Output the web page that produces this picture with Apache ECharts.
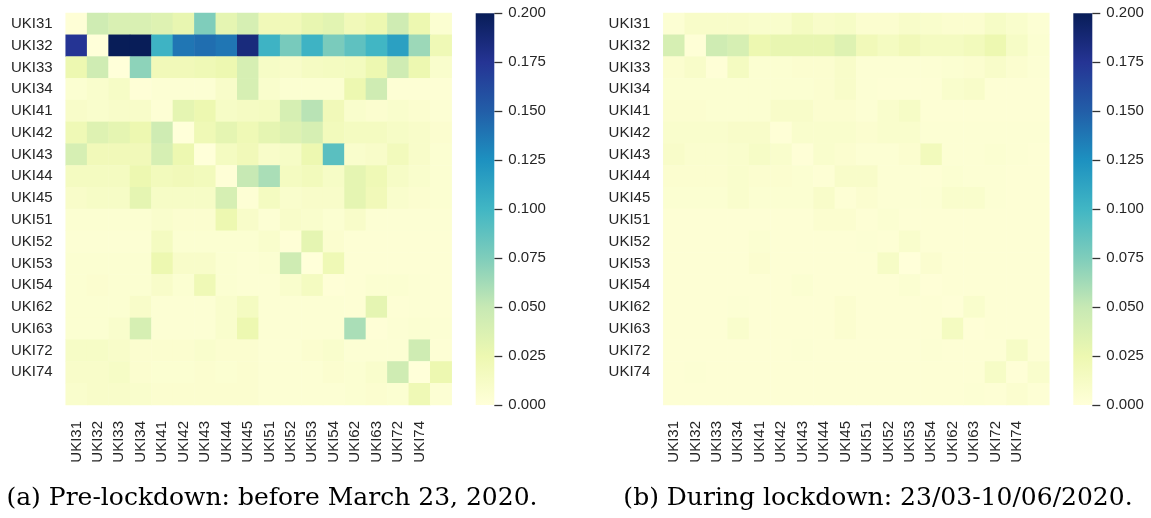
<!DOCTYPE html>
<html>
<head>
<meta charset="utf-8">
<script src="https://cdn.jsdelivr.net/npm/echarts/dist/echarts.min.js"></script>
<style>
  html, body { margin: 0; padding: 0; background: #ffffff; }
  #chart { width: 1151px; height: 518px; }
</style>
</head>
<body>
<div id="chart"></div>
<script>
// Region labels (the 18th row/column carries no label in the reference)
const regions = ['UKI31','UKI32','UKI33','UKI34','UKI41','UKI42','UKI43','UKI44','UKI45','UKI51','UKI52','UKI53','UKI54','UKI62','UKI63','UKI72','UKI74',''];

// Colour-bar ticks
const colorTicks = [0.000, 0.025, 0.050, 0.075, 0.100, 0.125, 0.150, 0.175, 0.200];
const colorMax = [0.2];

// YlGnBu colour map stops
const ylgnbu = ['#ffffd9','#edf8b1','#c7e9b4','#7fcdbb','#41b6c4','#1d91c0','#225ea8','#253494','#081d58'];

// (a) Pre-lockdown matrix, rows top to bottom
const preLockdown = [
  [0.002,0.045,0.038,0.038,0.035,0.028,0.075,0.030,0.040,0.020,0.020,0.028,0.032,0.020,0.025,0.045,0.025,0.005],
  [0.175,0.000,0.200,0.200,0.102,0.138,0.142,0.138,0.185,0.102,0.078,0.102,0.077,0.088,0.100,0.115,0.065,0.022],
  [0.025,0.045,0.000,0.070,0.020,0.020,0.022,0.025,0.040,0.012,0.010,0.014,0.015,0.016,0.025,0.045,0.025,0.008],
  [0.005,0.008,0.012,0.002,0.004,0.004,0.004,0.010,0.040,0.008,0.005,0.005,0.005,0.025,0.045,0.003,0.003,0.003],
  [0.010,0.008,0.010,0.010,0.003,0.030,0.025,0.012,0.014,0.015,0.040,0.055,0.020,0.008,0.006,0.008,0.006,0.004],
  [0.022,0.035,0.030,0.025,0.045,0.000,0.022,0.030,0.022,0.030,0.035,0.040,0.018,0.015,0.015,0.012,0.010,0.006],
  [0.040,0.020,0.020,0.020,0.040,0.025,0.000,0.015,0.020,0.010,0.012,0.025,0.090,0.008,0.010,0.018,0.010,0.005],
  [0.015,0.015,0.015,0.025,0.018,0.020,0.018,0.002,0.050,0.060,0.015,0.018,0.012,0.030,0.022,0.012,0.008,0.005],
  [0.010,0.012,0.012,0.030,0.012,0.012,0.012,0.040,0.003,0.015,0.008,0.010,0.010,0.030,0.020,0.008,0.006,0.005],
  [0.005,0.005,0.005,0.005,0.008,0.006,0.006,0.025,0.010,0.004,0.010,0.008,0.005,0.010,0.004,0.004,0.004,0.004],
  [0.004,0.004,0.004,0.004,0.015,0.005,0.005,0.005,0.005,0.008,0.002,0.030,0.006,0.003,0.003,0.003,0.003,0.003],
  [0.005,0.005,0.005,0.005,0.025,0.010,0.010,0.005,0.004,0.005,0.045,0.000,0.022,0.003,0.003,0.003,0.003,0.003],
  [0.005,0.006,0.005,0.005,0.010,0.005,0.022,0.005,0.004,0.004,0.008,0.015,0.002,0.003,0.005,0.005,0.004,0.003],
  [0.005,0.005,0.005,0.010,0.004,0.004,0.004,0.008,0.015,0.004,0.004,0.004,0.004,0.003,0.030,0.003,0.004,0.003],
  [0.005,0.005,0.008,0.040,0.004,0.004,0.004,0.008,0.025,0.004,0.004,0.004,0.004,0.060,0.002,0.004,0.005,0.004],
  [0.012,0.012,0.010,0.006,0.006,0.006,0.008,0.006,0.006,0.004,0.004,0.006,0.008,0.004,0.004,0.004,0.045,0.003],
  [0.010,0.010,0.012,0.006,0.005,0.005,0.006,0.005,0.006,0.004,0.004,0.004,0.006,0.005,0.008,0.045,0.000,0.025],
  [0.008,0.010,0.010,0.008,0.006,0.006,0.006,0.006,0.006,0.004,0.004,0.004,0.004,0.005,0.006,0.005,0.022,0.004]
];

// (b) During-lockdown matrix, rows top to bottom
const duringLockdown = [
  [0.004,0.010,0.010,0.010,0.008,0.008,0.015,0.010,0.012,0.006,0.006,0.010,0.008,0.006,0.006,0.012,0.008,0.004],
  [0.040,0.002,0.045,0.040,0.025,0.028,0.028,0.028,0.035,0.020,0.015,0.020,0.015,0.015,0.018,0.025,0.012,0.005],
  [0.006,0.010,0.002,0.015,0.005,0.005,0.006,0.006,0.010,0.004,0.004,0.004,0.004,0.005,0.006,0.010,0.006,0.004],
  [0.005,0.005,0.005,0.005,0.005,0.005,0.005,0.006,0.010,0.004,0.003,0.003,0.003,0.008,0.010,0.003,0.003,0.003],
  [0.006,0.006,0.005,0.005,0.005,0.010,0.010,0.006,0.006,0.004,0.008,0.012,0.003,0.003,0.003,0.003,0.003,0.003],
  [0.008,0.008,0.008,0.010,0.010,0.002,0.008,0.008,0.008,0.006,0.008,0.008,0.004,0.004,0.004,0.004,0.004,0.004],
  [0.010,0.007,0.007,0.008,0.012,0.008,0.002,0.008,0.006,0.004,0.004,0.006,0.018,0.004,0.004,0.005,0.004,0.003],
  [0.006,0.006,0.006,0.008,0.006,0.006,0.005,0.003,0.010,0.010,0.004,0.004,0.003,0.005,0.004,0.004,0.003,0.003],
  [0.005,0.005,0.005,0.008,0.005,0.005,0.005,0.010,0.003,0.006,0.004,0.004,0.004,0.008,0.008,0.004,0.003,0.003],
  [0.003,0.003,0.003,0.003,0.003,0.003,0.003,0.006,0.006,0.003,0.005,0.003,0.003,0.003,0.003,0.003,0.003,0.003],
  [0.003,0.003,0.003,0.003,0.005,0.003,0.003,0.003,0.003,0.004,0.003,0.008,0.003,0.003,0.003,0.003,0.003,0.003],
  [0.003,0.003,0.003,0.003,0.006,0.003,0.003,0.003,0.003,0.003,0.012,0.000,0.006,0.003,0.003,0.003,0.003,0.003],
  [0.003,0.003,0.003,0.003,0.003,0.003,0.005,0.003,0.003,0.003,0.003,0.005,0.002,0.003,0.003,0.003,0.003,0.003],
  [0.003,0.003,0.003,0.004,0.003,0.003,0.003,0.003,0.006,0.003,0.003,0.003,0.003,0.002,0.008,0.003,0.003,0.003],
  [0.003,0.003,0.003,0.008,0.003,0.003,0.003,0.003,0.006,0.003,0.003,0.003,0.003,0.015,0.002,0.003,0.003,0.003],
  [0.003,0.003,0.003,0.003,0.003,0.003,0.004,0.003,0.003,0.003,0.003,0.003,0.004,0.003,0.003,0.003,0.012,0.003],
  [0.003,0.004,0.003,0.003,0.003,0.003,0.003,0.003,0.003,0.003,0.003,0.003,0.003,0.003,0.003,0.012,0.002,0.008],
  [0.003,0.003,0.003,0.003,0.003,0.003,0.003,0.003,0.003,0.003,0.003,0.003,0.003,0.003,0.004,0.003,0.006,0.003]
];

const captions = ['(a) Pre-lockdown: before March 23, 2020.', '(b) During lockdown: 23/03-10/06/2020.'];

function toCells(matrix) {
  const out = [];
  matrix.forEach((row, r) => row.forEach((v, c) => out.push([c, r, v])));
  return out;
}

const chart = echarts.init(document.getElementById('chart'), null, { renderer: 'canvas' });
const sans = "'Liberation Sans', Arial, sans-serif";
const textColor = '#262626';

const gradStops = ylgnbu.slice().reverse().map((c, i, a) => ({ offset: i / (a.length - 1), color: c }));

function catX(gi) {
  return {
    type: 'category', gridIndex: gi, data: regions,
    axisLine: { show: false }, axisTick: { show: false }, splitLine: { show: false },
    axisLabel: { rotate: 90, fontSize: 15, fontFamily: sans, color: textColor, margin: 16, interval: 0 }
  };
}
function catY(gi) {
  return {
    type: 'category', gridIndex: gi, data: regions, inverse: true,
    axisLine: { show: false }, axisTick: { show: false }, splitLine: { show: false },
    axisLabel: { fontSize: 15, fontFamily: sans, color: textColor, margin: 13, interval: 0 }
  };
}
function cbX(gi) {
  return { type: 'category', gridIndex: gi, data: ['cb'], show: false };
}
function cbY(gi) {
  return {
    type: 'value', gridIndex: gi, min: colorTicks[0], max: colorTicks[colorTicks.length - 1],
    interval: 0.025, position: 'right',
    axisLine: { show: false }, splitLine: { show: false },
    axisTick: { show: true, length: 8, lineStyle: { color: '#333', width: 1.3 } },
    axisLabel: { fontSize: 15, fontFamily: sans, color: textColor, margin: 14, formatter: v => v.toFixed(3) }
  };
}

const option = {
  animation: false,
  backgroundColor: '#ffffff',
  grid: [
    { left: 65.7, top: 13, width: 386, height: 392 },
    { left: 663.3, top: 13, width: 386, height: 392 },
    { left: 475.7, top: 13.3, width: 18.6, height: 391.7 },
    { left: 1073.3, top: 13.3, width: 19, height: 391.7 }
  ],
  xAxis: [catX(0), catX(1), cbX(2), cbX(3)],
  yAxis: [catY(0), catY(1), cbY(2), cbY(3)],
  visualMap: [
    { show: false, seriesIndex: 0, dimension: 2, min: 0, max: 0.2, inRange: { color: ylgnbu } },
    { show: false, seriesIndex: 1, dimension: 2, min: 0, max: 0.2, inRange: { color: ylgnbu } }
  ],
  series: [
    { type: 'heatmap', xAxisIndex: 0, yAxisIndex: 0, data: toCells(preLockdown), emphasis: { disabled: true } },
    { type: 'heatmap', xAxisIndex: 1, yAxisIndex: 1, data: toCells(duringLockdown), emphasis: { disabled: true } },
    { type: 'bar', xAxisIndex: 2, yAxisIndex: 2, data: colorMax, barWidth: '100%', silent: true,
      itemStyle: { color: new echarts.graphic.LinearGradient(0, 0, 0, 1, gradStops) } },
    { type: 'bar', xAxisIndex: 3, yAxisIndex: 3, data: colorMax, barWidth: '100%', silent: true,
      itemStyle: { color: new echarts.graphic.LinearGradient(0, 0, 0, 1, gradStops) } }
  ],
  graphic: [
    { type: 'text', x: 272, y: 498, style: { text: captions[0], font: "25px 'DejaVu Serif', serif", fill: '#000', textAlign: 'center', textVerticalAlign: 'middle' } },
    { type: 'text', x: 878, y: 498, style: { text: captions[1], font: "25px 'DejaVu Serif', serif", fill: '#000', textAlign: 'center', textVerticalAlign: 'middle' } }
  ]
};
chart.setOption(option);
</script>
</body>
</html>
